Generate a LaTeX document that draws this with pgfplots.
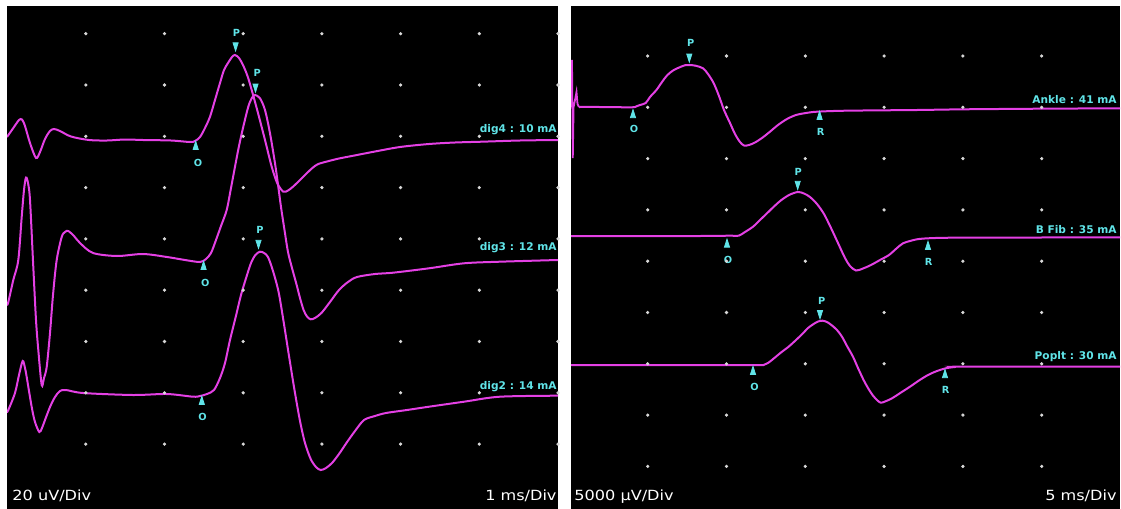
\documentclass[border=0pt]{standalone}
\usepackage{fontspec}
\setmainfont{DejaVu Sans}
\usepackage{pgfplots}
\pgfplotsset{compat=1.18}
\definecolor{trace}{RGB}{228,64,228}
\definecolor{mk}{RGB}{96,228,232}
\definecolor{dotc}{RGB}{215,215,215}
\newcommand{\mkfont}{\fontsize{4.9pt}{5pt}\selectfont\bfseries}
\newcommand{\lblfont}{\fontsize{5.3pt}{6pt}\selectfont\bfseries}
\newcommand{\divfont}{\fontsize{7pt}{8pt}\selectfont}
\pgfplotsset{
  panel/.style={scale only axis, height=251.5pt, ymin=6, ymax=509, y dir=reverse,
    axis background/.style={fill=black}, axis line style={draw=none},
    xtick=\empty, ytick=\empty, clip=true},
  tr/.style={color=trace, line width=1pt, smooth, tension=0.5, no markers},
  up/.style={only marks, color=mk, mark=triangle*, mark size=2.7pt, mark options={fill=mk, draw=mk, xscale=0.55}},
  dn/.style={only marks, color=mk, mark=triangle*, mark size=2.7pt, mark options={fill=mk, draw=mk, rotate=180, xscale=0.55}},
  dots/.style={only marks, color=dotc, mark=*, mark size=0.6pt, mark options={fill=dotc, draw=none}},
}
\begin{document}
\begin{tikzpicture}
\path[fill=white] (0,0) rectangle (560.5pt,254.5pt);
% ---------------- left panel ----------------
\begin{axis}[panel, at={(3.5pt,0pt)}, anchor=south west, width=275.5pt, xmin=7, xmax=558]
\pgfplotsinvokeforeach{85.8,164.5,243.2,321.9,400.6,479.3,558}{
  \addplot[dots] coordinates {(#1,33.7) (#1,85) (#1,136.3) (#1,187.6) (#1,238.9) (#1,290.2) (#1,341.5) (#1,392.8) (#1,444.1)};
}
% dig4
\addplot[tr] coordinates {(7,137) (14,127) (19,120) (22,119.5) (25,126) (30,143) (36,158) (40,152) (45,139) (50,131) (54,129) (60,131) (71,136.5) (89,140) (107,140.5) (125,139.5) (143,140) (171,140.5) (190,142) (195,141) (200,137) (205,128) (210,116.7) (215,100) (220,83) (224,70) (228,63) (232,57) (235,55) (239,58) (243,65) (247.5,76) (251.7,90) (258,113) (265,140) (271.7,166.7) (277.3,183.3) (283.3,191.7) (288,190.5) (293,186.7) (300,180) (306.7,173.3) (313,167.5) (318.3,164) (330,160.7) (339,158.5) (357,155) (375,151.5) (400,147) (429,144) (455,142.5) (482,141.7) (520,140.5) (558,140)};
% dig3
\addplot[tr] coordinates {(7,305) (8.3,302) (13.3,280) (18.3,260) (21.7,217) (24,190) (26,177.5) (28,183) (30,200) (33.3,267) (36,320) (38.3,350) (41.7,385) (44,378) (46.7,367) (50,333) (53,295) (56.7,260) (61.7,237) (65,232) (68.3,231) (74,236) (80,243) (93,253) (117,256) (143,254) (167,257) (185,260) (200,262) (206,259) (211,253) (216,240) (221,226) (226.7,210) (231,188) (235,166.7) (239,146) (243.3,126.7) (248.3,106.7) (251.7,98.3) (255,95) (260,98.3) (265,110) (270,133.3) (275,163.3) (278.3,186.7) (281,207) (284.5,230) (288,252) (292,268) (296.4,284) (300,298) (303.6,310) (307,316.5) (310.7,319.3) (315,318) (321.4,313) (330,302) (339,290) (348,282) (357,277) (375,274) (393,272.7) (429,268.3) (464,263.3) (500,261.7) (558,260)};
% dig2
\addplot[tr] coordinates {(7,412) (8.3,410) (15,393) (19,375) (22.7,361) (25,368) (26.7,377) (31.7,407) (35,422) (39.3,432) (42,428) (45,420) (50,407) (55,397) (60,391) (66,390) (83,393) (133,395) (167,394) (193,396.7) (200,396) (207,394) (214,390) (220,378) (225,363) (230,340) (235.7,317) (241,295) (246.4,277) (251,263) (255.4,255) (260,251.7) (264,253) (268,257) (273,271) (278.6,292) (283.5,321) (289,356) (294.5,390) (300,421) (305,443) (310.7,459) (316,467) (320.7,470) (326,468) (332,463) (339,454) (346.4,443) (355,431) (364,420) (375,416) (386,413) (407,410) (429,406.7) (464,401.7) (500,396.7) (558,395.7)};
% markers
\addplot[dn] coordinates {(235.6,45.5) (255.5,86.7) (258.5,243)};
\addplot[up] coordinates {(195.7,146.7) (203.6,266.7) (201.8,401.7)};
\node[mk, font=\mkfont, inner sep=0] at (axis cs:236.4,33.3) {P};
\node[mk, font=\mkfont, inner sep=0] at (axis cs:257.3,73.3) {P};
\node[mk, font=\mkfont, inner sep=0] at (axis cs:260,230) {P};
\node[mk, font=\mkfont, inner sep=0] at (axis cs:198,162.7) {O};
\node[mk, font=\mkfont, inner sep=0] at (axis cs:205.4,283.3) {O};
\node[mk, font=\mkfont, inner sep=0] at (axis cs:202.5,416.7) {O};
\node[mk, font=\lblfont, inner sep=0, anchor=east] at (axis cs:557,130) {dig4 : 10 mA};
\node[mk, font=\lblfont, inner sep=0, anchor=east] at (axis cs:557,248) {dig3 : 12 mA};
\node[mk, font=\lblfont, inner sep=0, anchor=east] at (axis cs:557,386.7) {dig2 : 14 mA};
\node[white, font=\divfont, inner sep=0, anchor=base west, xscale=1.15] at (axis cs:12,500) {20 uV/Div};
\node[white, font=\divfont, inner sep=0, anchor=base east, xscale=1.15] at (axis cs:557,500) {1 ms/Div};
\end{axis}
% ---------------- right panel ----------------
\begin{axis}[panel, at={(285.5pt,0pt)}, anchor=south west, width=274.5pt, xmin=571, xmax=1120]
\pgfplotsinvokeforeach{647.7,726.5,805.3,884.1,962.9,1041.7,1120.5}{
  \addplot[dots] coordinates {(#1,56) (#1,107.3) (#1,158.6) (#1,209.9) (#1,261.2) (#1,312.5) (#1,363.8) (#1,415.1) (#1,466.4)};
}
% stimulus artifact
\addplot[color=trace, line width=0.9pt, no markers] coordinates {(571,107) (572,60) (572.8,158) (573.6,107) (575,100) (576.5,92) (577.5,104) (579,107)};
% Ankle
\addplot[tr] coordinates {(579,107) (600,107) (631.4,107.3) (636,106.5) (640,105) (645.7,103) (650,97) (656.4,90) (662,82) (667,75.5) (673,70.5) (681,66.7) (686,65) (690,65) (696,65.8) (703,68.3) (708,74) (713.6,83) (719,96) (724,110) (730,123) (735,134) (740,142) (744,145.5) (749,145) (755,142.5) (762,138) (769,132.5) (778,125) (787,119) (796,115) (806,113) (817,111.7) (846,110.7) (917,110) (964,109.3) (1040,108.7) (1120,108.3)};
% B Fib
\addplot[tr] coordinates {(571,236) (650,236) (700,236) (730,235.7) (738.6,235.7) (745,232) (753,226.7) (760,220) (767,213.3) (774,206.5) (781.4,200) (790,194.5) (798,192) (804,193.5) (810,197) (817,204) (824,214) (831,228) (838,243) (845,258) (850,266) (856,270.5) (863,268.5) (871,265) (880,260) (889,255) (897,248) (903,243.3) (910,241) (917,239.3) (928,238.3) (953,237.7) (1040,237.5) (1120,237.3)};
% Poplt
\addplot[tr] coordinates {(571,365) (700,365) (750,365) (763.6,365) (768,363) (774,358.3) (781,352.5) (788.6,346.7) (796,340) (803,333.3) (808,328) (813.6,324) (818,321.5) (822.5,320.7) (827,322) (831.4,325) (837,330) (842,336.7) (847,346) (853,356.7) (858,368) (863.6,380) (868,388) (872.5,395) (877,400) (880.7,402.7) (885,401.5) (892,398.3) (901,392.5) (910,386.7) (919,380.5) (928,375) (937,371) (945.7,368.3) (955,367) (964,366.7) (1120,366.7)};
% markers
\addplot[dn] coordinates {(689.3,56.7) (797.7,184) (820,313.3)};
\addplot[up] coordinates {(633,115) (819.6,116.7) (727,244.5) (928,246.7) (753,371.7) (945,375)};
\node[mk, font=\mkfont, inner sep=0] at (axis cs:690.7,43.3) {P};
\node[mk, font=\mkfont, inner sep=0] at (axis cs:798.3,172) {P};
\node[mk, font=\mkfont, inner sep=0] at (axis cs:821.8,300.7) {P};
\node[mk, font=\mkfont, inner sep=0] at (axis cs:634,129) {O};
\node[mk, font=\mkfont, inner sep=0] at (axis cs:728,259.5) {O};
\node[mk, font=\mkfont, inner sep=0] at (axis cs:754.6,386.7) {O};
\node[mk, font=\mkfont, inner sep=0] at (axis cs:820.7,131.7) {R};
\node[mk, font=\mkfont, inner sep=0] at (axis cs:928.6,261.7) {R};
\node[mk, font=\mkfont, inner sep=0] at (axis cs:945.7,390) {R};
\node[mk, font=\lblfont, inner sep=0, anchor=east] at (axis cs:1117,99.3) {Ankle : 41 mA};
\node[mk, font=\lblfont, inner sep=0, anchor=east] at (axis cs:1117,230) {B Fib : 35 mA};
\node[mk, font=\lblfont, inner sep=0, anchor=east] at (axis cs:1117,356.7) {Poplt : 30 mA};
\node[white, font=\divfont, inner sep=0, anchor=base west, xscale=1.15] at (axis cs:574,500) {5000 µV/Div};
\node[white, font=\divfont, inner sep=0, anchor=base east, xscale=1.15] at (axis cs:1117,500) {5 ms/Div};
\end{axis}
\end{tikzpicture}
\end{document}
